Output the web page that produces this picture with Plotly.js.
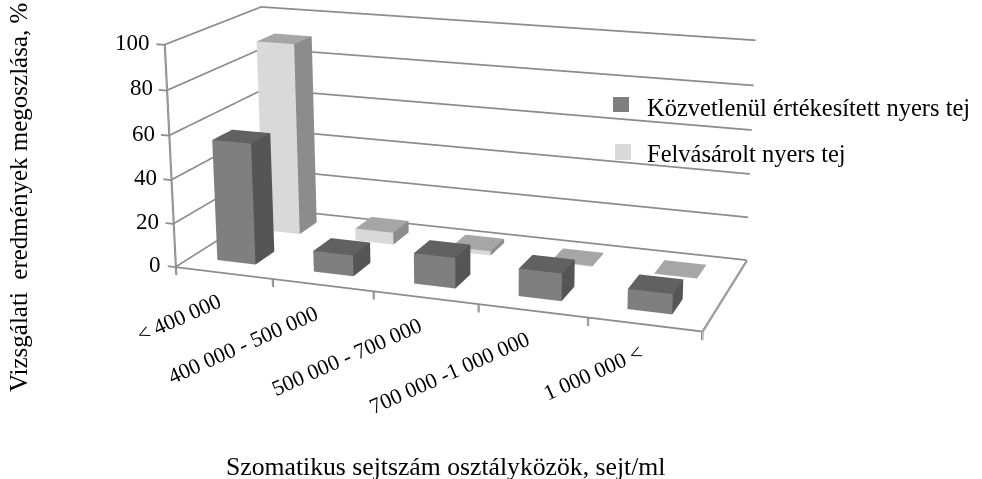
<!DOCTYPE html>
<html>
<head>
<meta charset="utf-8">
<script src="https://cdn.plot.ly/plotly-3.0.1.min.js"></script>
<style>
html,body{margin:0;padding:0;width:982px;height:479px;overflow:hidden;background:#fff}
#wrap{position:absolute;left:0;top:0;width:982px;height:479px;overflow:hidden}
#chart{position:absolute;left:-315px;top:-568px;width:1600px;height:1438px}
</style>
</head>
<body>
<div id="wrap"><div id="chart"></div></div>
<script>
var categories = ['< 400 000', '400 000 - 500 000', '500 000 - 700 000', '700 000 -1 000 000', '1 000 000 <'];
var directSale = [55.5, 9.5, 13.7, 12.2, 8.8];
var purchased = [90.5, 5.7, 2, 0.5, 0.2];
var seriesNames = ['Közvetlenül értékesített nyers tej', 'Felvásárolt nyers tej'];
var valueTicks = [0, 20, 40, 60, 80, 100];
var axisTitleX = 'Szomatikus sejtszám osztályközök, sejt/ml';
var axisTitleY = 'Vizsgálati  eredmények megoszlása, %';

var W = 1600, H = 1438, OX = 315, OY = 568;
function px(x){ return (x + OX) / W; }
function py(y){ return 1 - (y + OY) / H; }
var FONT = '"Liberation Serif","Times New Roman",serif';
var GRID = '#8c8c8c';
var labelShift = [4, 2, 3, 3, 5];

function barMesh(values, yc, cols, name){
  var X=[],Y=[],Z=[],I=[],J=[],K=[],FC=[];
  var hw=0.2, hd=0.1025, mid=0.47;
  values.forEach(function(v,c){
    var x0=c+mid-hw,x1=c+mid+hw,y0=yc-hd,y1=yc+hd,b=X.length;
    [[x0,y0,0],[x1,y0,0],[x1,y1,0],[x0,y1,0],[x0,y0,v],[x1,y0,v],[x1,y1,v],[x0,y1,v]].forEach(function(p){X.push(p[0]);Y.push(p[1]);Z.push(p[2]);});
    var q=function(a,d,e,f,col){I.push(b+a,b+a);J.push(b+d,b+e);K.push(b+e,b+f);FC.push(col,col);};
    q(0,1,5,4,cols.front); q(1,2,6,5,cols.side); q(4,5,6,7,cols.top);
  });
  return {type:'mesh3d',name:name,x:X,y:Y,z:Z,i:I,j:J,k:K,facecolor:FC,flatshading:true,
    lighting:{ambient:1,diffuse:0,specular:0,roughness:1,fresnel:0},hoverinfo:'skip',showscale:false};
}

// Walls, floor edges and tick marks, derived from the axis values.
// Each stroke is laid down twice with a hair offset so it reads about 2px wide.
var lx=[],ly=[],lz=[];
function seg(pts,dx,dz){
  [0,1].forEach(function(n){
    pts.forEach(function(p){lx.push(p[0]+n*dx);ly.push(p[1]);lz.push(p[2]+n*dz);});
    lx.push(null);ly.push(null);lz.push(null);
  });
}
valueTicks.forEach(function(t){
  seg([[-0.08,0,t],[0,0,t],[0,1,t],[5,1,t]],0,0.35);
});
seg([[0,0,0],[0,0,100]],0.012,0);
seg([[0,0,0],[5,0,0]],0,0.35);
seg([[5,0,0],[5,1,0]],0.012,0);
for(var c=0;c<=categories.length;c++){ seg([[c,0,0],[c,0,-3.5]],0.012,0); }

var data = [
  {type:'scatter3d',mode:'lines',x:lx,y:ly,z:lz,connectgaps:false,line:{color:GRID,width:2},hoverinfo:'skip',showlegend:false},
  barMesh(directSale,0.267,{front:'#7f7f7f',side:'#555555',top:'#616161'},seriesNames[0]),
  barMesh(purchased,0.765,{front:'#d9d9d9',side:'#8c8c8c',top:'#a6a6a6'},seriesNames[1])
];

var sceneAnn = [];
valueTicks.forEach(function(t){
  sceneAnn.push({x:0,y:0,z:t,text:String(t),showarrow:false,xanchor:'right',yanchor:'middle',xshift:-12,yshift:3,
    font:{family:FONT,size:23,color:'#000'}});
});
categories.forEach(function(c,i){
  sceneAnn.push({x:i+0.5,y:0,z:0,text:c.replace('<','&lt;'),showarrow:false,textangle:-24,xanchor:'right',yanchor:'top',xshift:labelShift[i],yshift:-12,
    font:{family:FONT,size:22,color:'#000'}});
});

var paperAnn = [
  {xref:'paper',yref:'paper',x:px(645),y:py(107),text:seriesNames[0],showarrow:false,xanchor:'left',yanchor:'middle',font:{family:FONT,size:24.5,color:'#000'}},
  {xref:'paper',yref:'paper',x:px(645),y:py(153),text:seriesNames[1],showarrow:false,xanchor:'left',yanchor:'middle',font:{family:FONT,size:24.5,color:'#000'}},
  {xref:'paper',yref:'paper',x:px(445),y:py(466),text:axisTitleX,showarrow:false,xanchor:'center',yanchor:'middle',font:{family:FONT,size:25.7,color:'#000'}},
  {xref:'paper',yref:'paper',x:px(18),y:py(198),text:axisTitleY,showarrow:false,textangle:-90,xanchor:'center',yanchor:'middle',font:{family:FONT,size:25,color:'#000'}}
];
var shapes = [
  {type:'rect',xref:'paper',yref:'paper',x0:px(613),x1:px(629),y0:py(97),y1:py(112),fillcolor:'#7f7f7f',line:{width:0}},
  {type:'rect',xref:'paper',yref:'paper',x0:px(615),x1:px(631),y0:py(144),y1:py(160),fillcolor:'#d9d9d9',line:{width:0}}
];

function ax(range){ return {visible:false,range:range,showspikes:false,title:{text:''}}; }
var layout = {
  width:W,height:H,autosize:false,margin:{l:0,r:0,t:0,b:0,pad:0},paper_bgcolor:'#fff',showlegend:false,
  annotations:paperAnn,shapes:shapes,
  scene:{
    domain:{x:[0,1],y:[0,1]},bgcolor:'#fff',
    aspectmode:'manual',aspectratio:{x:2.06,y:0.8143,z:0.8984},
    camera:{eye:{x:2.125,y:-5.810,z:1.7245},center:{x:0.065,y:0.099,z:0.0045},up:{x:0,y:0,z:1},projection:{type:'perspective'}},
    xaxis:ax([-0.1,5.05]),
    yaxis:ax([-0.02,1.02]),
    zaxis:ax([-4,102]),
    annotations:sceneAnn
  }
};
Plotly.newPlot('chart',data,layout,{displayModeBar:false,responsive:false});
</script>
</body>
</html>
